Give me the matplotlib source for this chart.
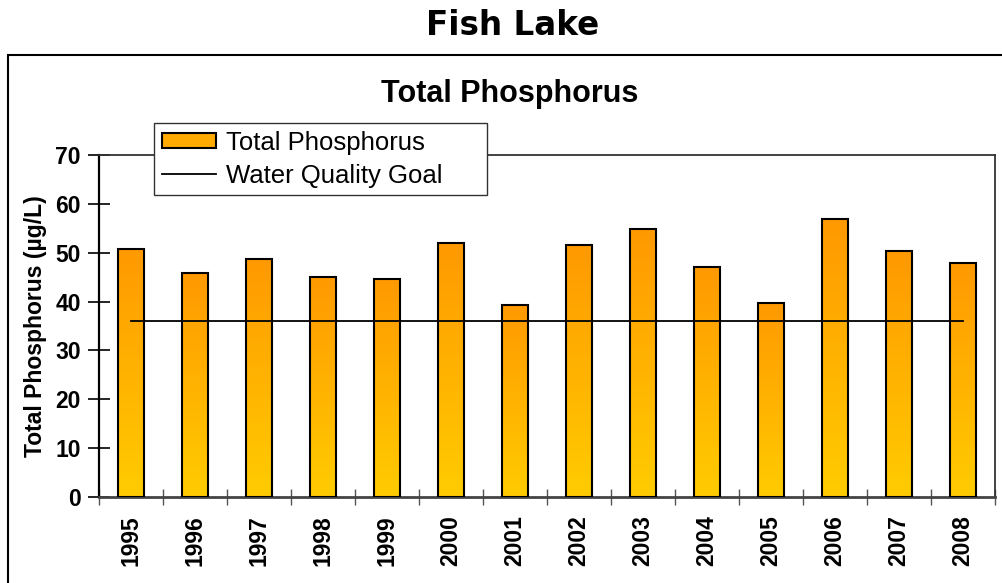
import numpy as np
import matplotlib
matplotlib.use("Agg")
import matplotlib.pyplot as plt
from matplotlib.colors import LinearSegmentedColormap
from matplotlib.patches import Rectangle, Patch
from matplotlib.lines import Line2D

plt.rcParams['font.family'] = ['Liberation Sans', 'DejaVu Sans']

years = ['1995', '1996', '1997', '1998', '1999', '2000', '2001',
         '2002', '2003', '2004', '2005', '2006', '2007', '2008']
total_p = [50.8, 45.8, 48.8, 45.1, 44.6, 51.9, 39.4,
           51.6, 54.9, 47.1, 39.7, 56.9, 50.3, 47.8]
goal = 36
yticks = [0, 10, 20, 30, 40, 50, 60, 70]

fig = plt.figure(figsize=(10.02, 5.83), dpi=100)
ax = fig.add_axes([0.0988, 0.1475, 0.8942, 0.5866])

x = np.arange(len(years))
bars = ax.bar(x, total_p, width=0.4, facecolor='none', edgecolor='black',
              linewidth=1.5, zorder=3)

# orange -> yellow gradient inside each bar
cmap = LinearSegmentedColormap.from_list('tp', ['#FFCC00', '#FF9900'])
grad = np.linspace(0, 1, 256).reshape(-1, 1)
for b in bars:
    bx, by = b.get_x(), b.get_y()
    im = ax.imshow(grad, origin='lower', cmap=cmap, aspect='auto',
                   extent=[bx, bx + b.get_width(), by, by + b.get_height()],
                   zorder=2)
    im.set_clip_path(b)

# water quality goal
ax.plot([x[0], x[-1]], [goal, goal], color='black', linewidth=1.3, zorder=4)

ax.set_xlim(-0.5, len(years) - 0.5)
ax.set_ylim(0, 70)
ax.set_yticks(yticks)
ax.set_yticklabels([str(v) for v in yticks], fontsize=16.5, fontweight='bold')
ax.set_xticks(np.arange(len(years) + 1) - 0.5)
ax.set_xticklabels([])
ax.set_xticks(x, minor=True)
ax.set_xticklabels(years, minor=True, rotation=90, fontsize=16.5,
                   fontweight='bold')
ax.tick_params(axis='y', direction='inout', length=16, width=1.2, pad=5)
ax.tick_params(axis='x', which='major', direction='inout', length=11,
               width=1, color='#555555')
ax.tick_params(axis='x', which='minor', length=0, pad=13)
ax.set_ylabel('Total Phosphorus (µg/L)', fontsize=16.5, fontweight='bold',
              labelpad=6)

ax.spines['left'].set_linewidth(1.6)
ax.spines['bottom'].set_linewidth(2)
ax.spines['bottom'].set_color('#444444')
for s in ['top', 'right']:
    ax.spines[s].set_linewidth(1.3)
    ax.spines[s].set_color('#333333')

# legend
handles = [Patch(facecolor='#FFAA00', edgecolor='black', linewidth=1.5),
           Line2D([], [], color='black', linewidth=1.3)]
leg = fig.legend(handles, ['Total Phosphorus', 'Water Quality Goal'],
                 loc='upper left', bbox_to_anchor=(0.1537, 0.689, 0.3323, 0.1),
                 mode='expand', fontsize=18.5, frameon=True, fancybox=False,
                 framealpha=1, edgecolor='#333333', borderpad=0.3,
                 labelspacing=0.35, handlelength=2.1, handleheight=0.55,
                 handletextpad=0.4, borderaxespad=0)
leg.get_frame().set_linewidth(1)
leg.set_zorder(10)

# outer chart frame (cut off at right and bottom)
fig.patches.append(Rectangle((0.008, -0.2), 1.2, 0.9057 + 0.2,
                             transform=fig.transFigure, fill=False,
                             edgecolor='black', linewidth=1.5))

fig.text(0.509, 0.825, 'Total Phosphorus', ha='center', va='baseline',
         fontsize=22, fontweight='bold')
fig.text(0.512, 0.94, 'Fish Lake', ha='center', va='baseline',
         fontsize=23.5, fontweight='bold', family='DejaVu Sans')

fig.savefig('out.png', dpi=100)
